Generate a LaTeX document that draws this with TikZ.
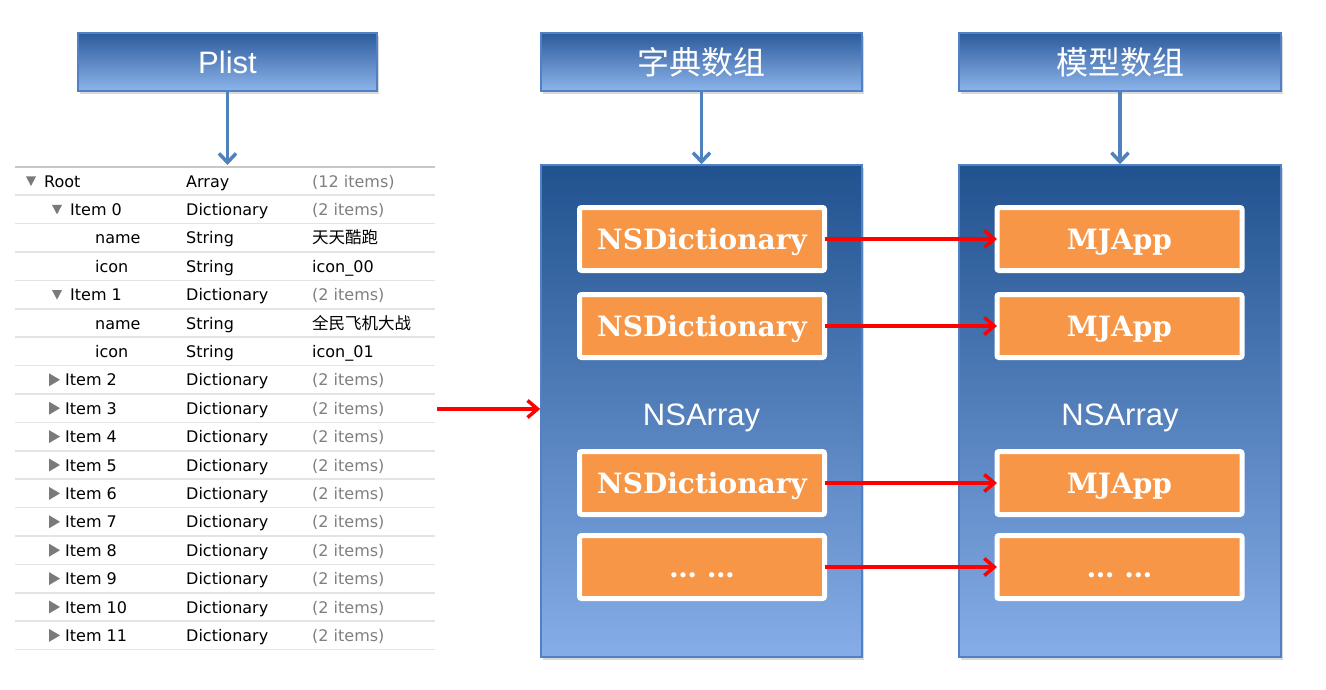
\documentclass[tikz,border=0pt]{standalone}
\usepackage{fontspec}
\usetikzlibrary{arrows.meta,shadows}
\newfontfamily\tabfont{DejaVu Sans}
\newfontfamily\headfont{Liberation Sans}
\newfontfamily\slabfont{DejaVu Serif}
\newfontfamily\cjk{Noto Sans CJK SC}
\definecolor{hdTop}{HTML}{2C5B9C}
\definecolor{hdBot}{HTML}{8DB4EA}
\definecolor{arTop}{HTML}{20528F}
\definecolor{arBot}{HTML}{86ADE7}
\definecolor{boxBorder}{HTML}{4F81C4}
\definecolor{arrBlue}{HTML}{4F81BD}
\definecolor{objOrange}{HTML}{F79646}
\definecolor{tabGray}{HTML}{7F7F7F}
\definecolor{tabLine}{HTML}{E4E4E4}
\definecolor{tabTop}{HTML}{C8C8C8}
\definecolor{triGray}{HTML}{7A7A7A}
\begin{document}
\begin{tikzpicture}[x=1pt, y=-1pt,
    headStyle/.style={rectangle, draw=boxBorder, line width=1.5pt, minimum width=299pt, minimum height=58pt, inner sep=0pt, top color=hdTop, bottom color=hdBot, text=white, drop shadow={opacity=0.3, shadow xshift=2pt, shadow yshift=-3pt}},
    arrayStyle/.style={rectangle, draw=boxBorder, line width=1.5pt, minimum width=321pt, minimum height=492pt, inner sep=0pt, top color=arTop, bottom color=arBot, drop shadow={opacity=0.3, shadow xshift=2pt, shadow yshift=-3pt}},
    objStyle/.style={rectangle, draw=white, line width=5pt, rounded corners=2pt, fill=objOrange, minimum width=245pt, minimum height=63pt, outer sep=0pt, text=white, text height=20pt, text depth=0pt, font=\slabfont\bfseries\fontsize{28}{30}\selectfont},
    keyStyle/.style={anchor=base west, inner sep=0pt, font=\tabfont\fontsize{16}{18}\selectfont},
    noteStyle/.style={keyStyle, text=tabGray},
    blueArrow/.style={draw=arrBlue, line width=3.5pt, -{Straight Barb[length=9pt, width=17pt]}},
    redArrow/.style={draw=red, line width=3.5pt, -{Straight Barb[length=10pt, width=17pt]}}]
    \useasboundingbox (0,0) rectangle (1326,690);

    % headers
    \node[headStyle] (plist_H) at (227.5, 62) {\headfont\fontsize{31}{33}\selectfont Plist};
    \node[headStyle, minimum width=321pt] (dict_H) at (701.5, 62) {\cjk\fontsize{32}{34}\selectfont 字典数组};
    \node[headStyle, minimum width=322pt] (model_H) at (1120, 62) {\cjk\fontsize{32}{34}\selectfont 模型数组};

    % plist table
    \draw[tabTop, line width=2pt] (15, 167) -- (435, 167);
    \foreach \y in {195.2, 223.6, 252, 280.4, 308.8, 337.2, 365.6, 394, 422.4, 450.8, 479.2, 507.6, 536, 564.4, 592.8, 621.2, 649.6}
        \draw[tabLine, line width=1.6pt] (15, \y) -- (435, \y);

    \fill[triGray] (26, 176.5) -- (36, 176.5) -- (31, 186) -- cycle;
    \node[keyStyle] (r0_key)  at (44, 187) {Root};
    \node[keyStyle] (r0_type) at (186, 187) {Array};
    \node[noteStyle] (r0_val) at (312, 187) {(12 items)};

    \fill[triGray] (52, 204.9) -- (62, 204.9) -- (57, 214.4) -- cycle;
    \node[keyStyle] (r1_key)  at (70, 215.4) {Item 0};
    \node[keyStyle] (r1_type) at (186, 215.4) {Dictionary};
    \node[noteStyle] (r1_val) at (312, 215.4) {(2 items)};

    \node[keyStyle] (r2_key)  at (95, 243.8) {name};
    \node[keyStyle] (r2_type) at (186, 243.8) {String};
    \node[keyStyle, font=\cjk\fontsize{16.5}{18}\selectfont] (r2_val) at (312, 243.8) {天天酷跑};

    \node[keyStyle] (r3_key)  at (95, 272.2) {icon};
    \node[keyStyle] (r3_type) at (186, 272.2) {String};
    \node[keyStyle] (r3_val)  at (312, 272.2) {icon\_00};

    \fill[triGray] (52, 290.1) -- (62, 290.1) -- (57, 299.6) -- cycle;
    \node[keyStyle] (r4_key)  at (70, 300.6) {Item 1};
    \node[keyStyle] (r4_type) at (186, 300.6) {Dictionary};
    \node[noteStyle] (r4_val) at (312, 300.6) {(2 items)};

    \node[keyStyle] (r5_key)  at (95, 329) {name};
    \node[keyStyle] (r5_type) at (186, 329) {String};
    \node[keyStyle, font=\cjk\fontsize{16.5}{18}\selectfont] (r5_val) at (312, 329) {全民飞机大战};

    \node[keyStyle] (r6_key)  at (95, 357.4) {icon};
    \node[keyStyle] (r6_type) at (186, 357.4) {String};
    \node[keyStyle] (r6_val)  at (312, 357.4) {icon\_01};

    \fill[triGray] (49, 373.3) -- (60, 379.8) -- (49, 386.3) -- cycle;
    \node[keyStyle] (r7_key)  at (65, 385.8) {Item 2};
    \node[keyStyle] (r7_type) at (186, 385.8) {Dictionary};
    \node[noteStyle] (r7_val) at (312, 385.8) {(2 items)};

    \fill[triGray] (49, 401.7) -- (60, 408.2) -- (49, 414.7) -- cycle;
    \node[keyStyle] (r8_key)  at (65, 414.2) {Item 3};
    \node[keyStyle] (r8_type) at (186, 414.2) {Dictionary};
    \node[noteStyle] (r8_val) at (312, 414.2) {(2 items)};

    \fill[triGray] (49, 430.1) -- (60, 436.6) -- (49, 443.1) -- cycle;
    \node[keyStyle] (r9_key)  at (65, 442.6) {Item 4};
    \node[keyStyle] (r9_type) at (186, 442.6) {Dictionary};
    \node[noteStyle] (r9_val) at (312, 442.6) {(2 items)};

    \fill[triGray] (49, 458.5) -- (60, 465) -- (49, 471.5) -- cycle;
    \node[keyStyle] (r10_key)  at (65, 471) {Item 5};
    \node[keyStyle] (r10_type) at (186, 471) {Dictionary};
    \node[noteStyle] (r10_val) at (312, 471) {(2 items)};

    \fill[triGray] (49, 486.9) -- (60, 493.4) -- (49, 499.9) -- cycle;
    \node[keyStyle] (r11_key)  at (65, 499.4) {Item 6};
    \node[keyStyle] (r11_type) at (186, 499.4) {Dictionary};
    \node[noteStyle] (r11_val) at (312, 499.4) {(2 items)};

    \fill[triGray] (49, 515.3) -- (60, 521.8) -- (49, 528.3) -- cycle;
    \node[keyStyle] (r12_key)  at (65, 527.8) {Item 7};
    \node[keyStyle] (r12_type) at (186, 527.8) {Dictionary};
    \node[noteStyle] (r12_val) at (312, 527.8) {(2 items)};

    \fill[triGray] (49, 543.7) -- (60, 550.2) -- (49, 556.7) -- cycle;
    \node[keyStyle] (r13_key)  at (65, 556.2) {Item 8};
    \node[keyStyle] (r13_type) at (186, 556.2) {Dictionary};
    \node[noteStyle] (r13_val) at (312, 556.2) {(2 items)};

    \fill[triGray] (49, 572.1) -- (60, 578.6) -- (49, 585.1) -- cycle;
    \node[keyStyle] (r14_key)  at (65, 584.6) {Item 9};
    \node[keyStyle] (r14_type) at (186, 584.6) {Dictionary};
    \node[noteStyle] (r14_val) at (312, 584.6) {(2 items)};

    \fill[triGray] (49, 600.5) -- (60, 607) -- (49, 613.5) -- cycle;
    \node[keyStyle] (r15_key)  at (65, 613) {Item 10};
    \node[keyStyle] (r15_type) at (186, 613) {Dictionary};
    \node[noteStyle] (r15_val) at (312, 613) {(2 items)};

    \fill[triGray] (49, 628.9) -- (60, 635.4) -- (49, 641.9) -- cycle;
    \node[keyStyle] (r16_key)  at (65, 641.4) {Item 11};
    \node[keyStyle] (r16_type) at (186, 641.4) {Dictionary};
    \node[noteStyle] (r16_val) at (312, 641.4) {(2 items)};

    % arrays
    \node[arrayStyle] (dict_A) at (701.5, 411) {};
    \node[arrayStyle, minimum width=322pt] (model_A) at (1120, 411) {};
    \node[anchor=base, text=white, font=\headfont\fontsize{31}{33}\selectfont] (dict_L) at (701.5, 425) {NSArray};
    \node[anchor=base, text=white, font=\headfont\fontsize{31}{33}\selectfont] (model_L) at (1120, 425) {NSArray};

    \node[objStyle] (dict_0) at (702, 239) {NSDictionary};
    \node[objStyle] (dict_1) at (702, 326) {NSDictionary};
    \node[objStyle] (dict_2) at (702, 483) {NSDictionary};
    \node[objStyle] (dict_3) at (702, 567) {… …};

    \node[objStyle] (model_0) at (1119.5, 239) {MJApp};
    \node[objStyle] (model_1) at (1119.5, 326) {MJApp};
    \node[objStyle] (model_2) at (1119.5, 483) {MJApp};
    \node[objStyle] (model_3) at (1119.5, 567) {… …};

    % connectors
    \coordinate (plist_in) at (227.5, 165);
    \coordinate (plist_out) at (437, 409);
    \draw[blueArrow] (plist_H.south) -- (plist_in);
    \draw[blueArrow] (dict_H.south) -- (dict_A.north);
    \draw[blueArrow] (model_H.south) -- (model_A.north);
    \draw[redArrow] (plist_out) -- (plist_out -| dict_A.west);
    \draw[redArrow] (dict_0.east) -- (model_0.west);
    \draw[redArrow] (dict_1.east) -- (model_1.west);
    \draw[redArrow] (dict_2.east) -- (model_2.west);
    \draw[redArrow] (dict_3.east) -- (model_3.west);
\end{tikzpicture}
\end{document}
